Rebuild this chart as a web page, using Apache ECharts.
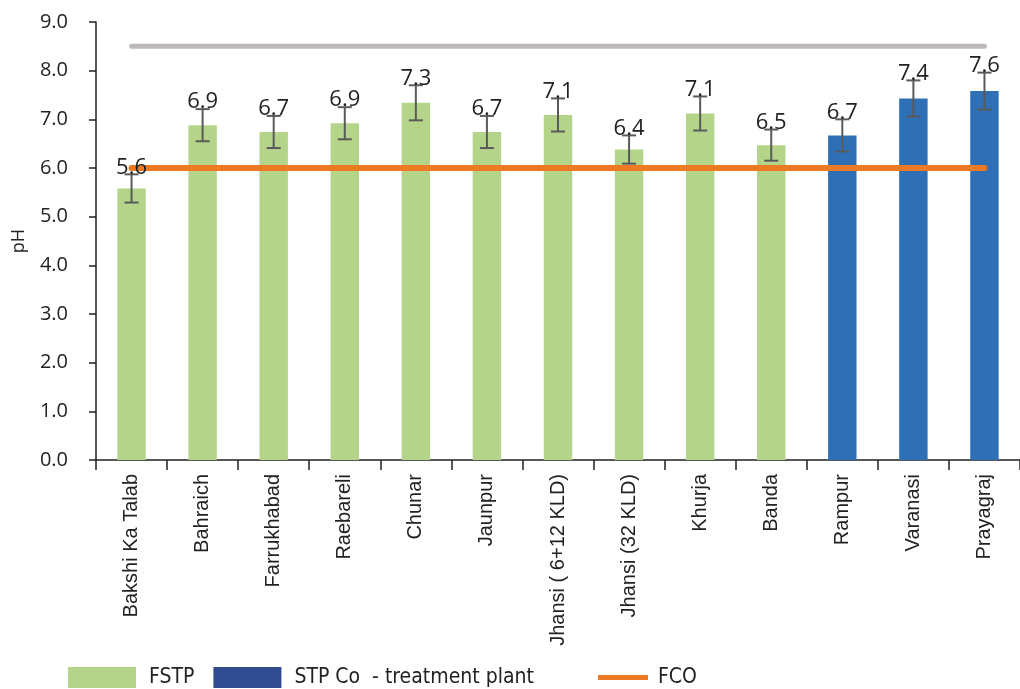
<!DOCTYPE html>
<html>
<head>
<meta charset="utf-8">
<script src="https://cdn.jsdelivr.net/npm/echarts@6/dist/echarts.min.js"></script>
<style>
  html, body { margin: 0; padding: 0; background: #fff; }
  #chart { width: 1020px; height: 689px; }
</style>
</head>
<body>
<div id="chart"></div>
<script>
// Sites sampled, grouped by plant type
const categories = ['Bakshi Ka Talab', 'Bahraich', 'Farrukhabad', 'Raebareli', 'Chunar', 'Jaunpur',
  'Jhansi ( 6+12 KLD)', 'Jhansi (32 KLD)', 'Khurja', 'Banda', 'Rampur', 'Varanasi', 'Prayagraj'];
// Mean pH (null where the site belongs to the other group)
const fstpValues = [5.58, 6.88, 6.74, 6.92, 7.34, 6.74, 7.09, 6.38, 7.12, 6.47, null, null, null];
const stpValues  = [null, null, null, null, null, null, null, null, null, null, 6.67, 7.43, 7.58];
// Standard deviation shown as error bars
const sdValues   = [0.29, 0.33, 0.33, 0.33, 0.36, 0.33, 0.34, 0.29, 0.35, 0.32, 0.33, 0.37, 0.38];
// Reference levels
const fcoLevel = 6.0;
const upperLevel = 8.5;
const yTicks = { min: 0, max: 9, interval: 1 };

const meanValues = categories.map((_, i) => fstpValues[i] != null ? fstpValues[i] : stpValues[i]);
const errorData = categories.map((_, i) => [i, meanValues[i], sdValues[i]]);

const chart = echarts.init(document.getElementById('chart'));

const labelFont = '"Open Sans", "Noto Sans", sans-serif';
const legendFont = '"Liberation Sans Narrow", "DejaVu Sans Condensed", "Roboto", sans-serif';

chart.setOption({
  animation: false,
  grid: { left: 96, top: 22, right: 0, bottom: 229, containLabel: false },
  legend: [
    {
      left: 63, top: 662, itemWidth: 68, itemHeight: 21, itemGap: 19,
      selectedMode: false,
      icon: 'rect',
      textStyle: { fontFamily: legendFont, fontSize: 21, lineHeight: 21, color: '#222', padding: [0, 0, 0, 8] },
      data: [
        { name: 'FSTP', itemStyle: { color: '#B4D48A' } },
        { name: 'STP Co  - treatment plant', itemStyle: { color: '#2F4C91' } }
      ]
    },
    {
      left: 593, top: 662, itemWidth: 50, itemHeight: 5,
      selectedMode: false,
      icon: 'rect',
      textStyle: { fontFamily: legendFont, fontSize: 21, lineHeight: 21, color: '#222', padding: [0, 0, 0, 5] },
      data: [{ name: 'FCO', itemStyle: { color: '#EB7A23' } }]
    }
  ],
  xAxis: {
    type: 'category',
    data: categories,
    boundaryGap: true,
    axisLine: { lineStyle: { color: '#222', width: 1.5 } },
    axisTick: { show: true, length: 10, lineStyle: { color: '#222', width: 1.5 } },
    axisLabel: {
      rotate: 90, margin: 14, interval: 0,
      fontFamily: '"Liberation Sans", Arial, sans-serif', fontSize: 20, color: '#222'
    }
  },
  yAxis: {
    type: 'value',
    min: yTicks.min, max: yTicks.max, interval: yTicks.interval,
    name: 'pH',
    nameLocation: 'middle',
    nameGap: 68,
    nameRotate: 90,
    nameTextStyle: { fontFamily: labelFont, fontSize: 18, color: '#222' },
    axisLine: { show: true, lineStyle: { color: '#222', width: 1.5 } },
    axisTick: { show: true, length: 7, lineStyle: { color: '#222', width: 1.5 } },
    splitLine: { show: false },
    axisLabel: {
      margin: 28,
      fontFamily: labelFont, fontSize: 20, color: '#222',
      formatter: v => v.toFixed(1)
    }
  },
  series: [
    {
      name: 'FSTP', type: 'bar', data: fstpValues, barWidth: '40%', barGap: '-100%',
      itemStyle: { color: '#B4D48A' }, z: 2
    },
    {
      name: 'STP Co  - treatment plant', type: 'bar', data: stpValues, barWidth: '40%', barGap: '-100%',
      itemStyle: { color: '#2E6FB5' }, z: 2
    },
    {
      name: 'upper', type: 'line', data: categories.map(() => upperLevel),
      showSymbol: false, symbol: 'none', silent: true,
      lineStyle: { color: '#BEBABA', width: 5, cap: 'round' }, z: 3
    },
    {
      name: 'FCO', type: 'line', data: categories.map(() => fcoLevel),
      showSymbol: false, symbol: 'none', silent: true,
      lineStyle: { color: '#EB7A23', width: 6, cap: 'round' }, z: 4
    },
    {
      name: 'error', type: 'custom', data: errorData, z: 5, silent: true,
      renderItem: function (params, api) {
        const i = api.value(0), mean = api.value(1), sd = api.value(2);
        const hi = api.coord([i, mean + sd]);
        const lo = api.coord([i, mean - sd]);
        const cap = 7;
        const style = { stroke: '#5A5A5A', lineWidth: 2 };
        return {
          type: 'group',
          children: [
            { type: 'line', shape: { x1: hi[0], y1: hi[1], x2: lo[0], y2: lo[1] }, style },
            { type: 'line', shape: { x1: hi[0] - cap, y1: hi[1], x2: hi[0] + cap, y2: hi[1] }, style },
            { type: 'line', shape: { x1: lo[0] - cap, y1: lo[1], x2: lo[0] + cap, y2: lo[1] }, style },
            {
              type: 'text',
              style: {
                text: mean.toFixed(1), x: hi[0], y: hi[1] + 4,
                align: 'center', verticalAlign: 'bottom',
                font: '22px ' + labelFont, fill: '#222'
              }
            }
          ]
        };
      }
    }
  ]
});
</script>
</body>
</html>
